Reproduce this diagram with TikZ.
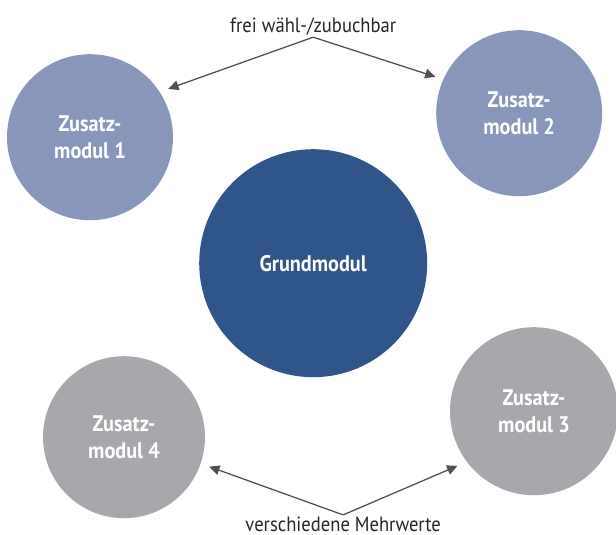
\documentclass[tikz,border=0pt]{standalone}
\usepackage{fontspec}
\setmainfont{PT Sans}[FakeStretch=0.9]
\usetikzlibrary{arrows.meta}

\definecolor{zblue}{HTML}{8796BA}
\definecolor{gblue}{HTML}{30558B}
\definecolor{zgray}{HTML}{A7A8AC}
\definecolor{arrgray}{HTML}{505050}

\begin{document}
\begin{tikzpicture}[
    mod/.style={circle, draw=none, text=white, align=center, font=\fontsize{16}{19}\selectfont\bfseries, inner sep=0pt},
    lbl/.style={font=\fontsize{14.7}{18}\selectfont, text=black!85, inner sep=1pt},
    arr/.style={-{Triangle[length=2.6mm, width=2.4mm]}, line width=0.9pt, draw=arrgray, fill=arrgray}
]

\useasboundingbox (0,0) rectangle (15.4,-13.375);

% -- Modules --
\node[mod, fill=gblue, minimum size=5.7cm] (grund) at (7.83,-6.58) {Grundmodul};
\node[mod, fill=zblue, minimum size=4.15cm] (z1) at (2.25,-3.43) {Zusatz-\\modul 1};
\node[mod, fill=zblue, minimum size=4.15cm] (z2) at (12.98,-2.83) {Zusatz-\\modul 2};
\node[mod, fill=zgray, minimum size=4.2cm] (z3) at (13.35,-10.28) {Zusatz-\\modul 3};
\node[mod, fill=zgray, minimum size=4.05cm] (z4) at (3.10,-10.93) {Zusatz-\\modul 4};

% -- Labels --
\node[lbl, anchor=south] (frei) at (7.83,-0.93) {frei wähl-/zubuchbar};
\node[lbl, anchor=base] (mehr) at (8.58,-13.28) {verschiedene Mehrwerte};

% -- Arrows --
\draw[arr, shorten >=0.22cm] (frei.south) -- (z1.33);
\draw[arr, shorten >=0.2cm] (frei.south) -- (z2.156);
\draw[arr, shorten >=0.25cm] (mehr.north) -- (z3.-143.6);
\draw[arr, shorten >=0.22cm] (mehr.north) -- (z4.-19.4);

\end{tikzpicture}
\end{document}
